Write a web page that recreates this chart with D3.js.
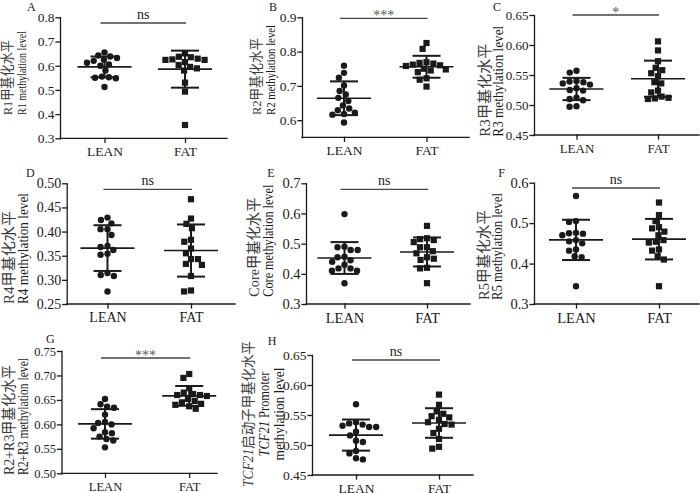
<!DOCTYPE html>
<html>
<head>
  <meta charset="UTF-8">
  <title>TCF21 methylation - LEAN vs FAT</title>
  <script src="https://cdn.jsdelivr.net/npm/d3@7"></script>
  <style>
    body { margin: 0; background: #fff; }
  </style>
</head>
<body>
  <svg id="chart" width="700" height="493"></svg>
  <script>
  //-----------------------------------------
  // data (methylation level per animal)
  const groups = ["LEAN", "FAT"]

  const leanA = [0.655, 0.642, 0.638, 0.632, 0.625, 0.620, 0.612, 0.605, 0.600, 0.580, 0.555, 0.552, 0.550, 0.548, 0.512]
  const fatA  = [0.651, 0.637, 0.635, 0.629, 0.626, 0.624, 0.624, 0.615, 0.603, 0.595, 0.589, 0.580, 0.530, 0.493, 0.355]
  const leanB = [0.759, 0.738, 0.724, 0.701, 0.685, 0.675, 0.665, 0.656, 0.643, 0.634, 0.629, 0.622, 0.618, 0.616, 0.593]
  const fatB  = [0.825, 0.808, 0.769, 0.767, 0.765, 0.762, 0.760, 0.758, 0.750, 0.748, 0.745, 0.740, 0.722, 0.718, 0.698]
  const leanC = [0.557, 0.554, 0.540, 0.539, 0.538, 0.536, 0.534, 0.528, 0.525, 0.524, 0.512, 0.510, 0.508, 0.498, 0.497]
  const fatC  = [0.606, 0.591, 0.573, 0.562, 0.558, 0.553, 0.548, 0.538, 0.536, 0.524, 0.521, 0.514, 0.512, 0.511, 0.510]
  const leanD = [0.429, 0.424, 0.417, 0.405, 0.405, 0.393, 0.370, 0.368, 0.362, 0.354, 0.352, 0.314, 0.310, 0.308, 0.276]
  const fatD  = [0.467, 0.427, 0.416, 0.407, 0.383, 0.379, 0.365, 0.355, 0.343, 0.343, 0.333, 0.331, 0.308, 0.278, 0.276]
  const leanE = [0.598, 0.490, 0.488, 0.479, 0.479, 0.455, 0.457, 0.445, 0.440, 0.430, 0.410, 0.418, 0.418, 0.410, 0.369]
  const fatE  = [0.559, 0.518, 0.515, 0.512, 0.505, 0.488, 0.488, 0.475, 0.468, 0.455, 0.450, 0.446, 0.420, 0.418, 0.369]
  const leanF = [0.567, 0.505, 0.503, 0.476, 0.475, 0.474, 0.470, 0.458, 0.455, 0.450, 0.435, 0.432, 0.418, 0.416, 0.344]
  const fatF  = [0.551, 0.520, 0.505, 0.490, 0.487, 0.479, 0.470, 0.458, 0.454, 0.452, 0.435, 0.432, 0.418, 0.410, 0.344]
  const leanG = [0.652, 0.641, 0.636, 0.634, 0.620, 0.605, 0.603, 0.600, 0.592, 0.584, 0.582, 0.575, 0.570, 0.567, 0.553]
  const fatG  = [0.703, 0.695, 0.674, 0.665, 0.662, 0.660, 0.660, 0.658, 0.652, 0.648, 0.645, 0.642, 0.640, 0.637, 0.632]
  const leanH = [0.568, 0.538, 0.536, 0.534, 0.532, 0.530, 0.530, 0.522, 0.516, 0.507, 0.505, 0.490, 0.486, 0.478, 0.476]
  const fatH  = [0.584, 0.567, 0.556, 0.552, 0.548, 0.546, 0.542, 0.538, 0.535, 0.534, 0.527, 0.520, 0.510, 0.497, 0.494]

  // y axis tick labels
  const ticksA = [0.3, 0.4, 0.5, 0.6, 0.7, 0.8]
  const ticksB = [0.6, 0.7, 0.8, 0.9]
  const ticksC = [0.45, 0.50, 0.55, 0.60, 0.65]
  const ticksD = [0.25, 0.30, 0.35, 0.40, 0.45, 0.50]
  const ticksE = [0.3, 0.4, 0.5, 0.6, 0.7]
  const ticksF = [0.3, 0.4, 0.5, 0.6]
  const ticksG = [0.50, 0.55, 0.60, 0.65, 0.70, 0.75]
  const ticksH = [0.45, 0.50, 0.55, 0.60, 0.65]

  const significance = ["ns", "***", "*", "ns", "ns", "ns", "***", "ns"]

  const panels = [
    { id: "A", lean: leanA, fat: fatA, domain: [0.3, 0.8], ticks: ticksA, fmt: ".1f", label: ["R1甲基化水平", "R1 methylation level"] },
    { id: "B", lean: leanB, fat: fatB, domain: [0.55, 0.9], ticks: ticksB, fmt: ".1f", label: ["R2甲基化水平", "R2 methylation level"] },
    { id: "C", lean: leanC, fat: fatC, domain: [0.45, 0.65], ticks: ticksC, fmt: ".2f", label: ["R3甲基化水平", "R3 methylation level"] },
    { id: "D", lean: leanD, fat: fatD, domain: [0.25, 0.50], ticks: ticksD, fmt: ".2f", label: ["R4甲基化水平", "R4 methylation level"] },
    { id: "E", lean: leanE, fat: fatE, domain: [0.3, 0.7], ticks: ticksE, fmt: ".1f", label: ["Core甲基化水平", "Core methylation level"] },
    { id: "F", lean: leanF, fat: fatF, domain: [0.3, 0.6], ticks: ticksF, fmt: ".1f", label: ["R5甲基化水平", "R5 methylation level"] },
    { id: "G", lean: leanG, fat: fatG, domain: [0.50, 0.75], ticks: ticksG, fmt: ".2f", label: ["R2+R3甲基化水平", "R2+R3 methylation level"] },
    { id: "H", lean: leanH, fat: fatH, domain: [0.45, 0.65], ticks: ticksH, fmt: ".2f", label: ["<i>TCF21</i>启动子甲基化水平", "<i>TCF21</i> Promoter", "methylation level"] }
  ]

  // where each panel sits on the page; labX/labS/labL = title baseline, font size, drawn length
  const layout = {
    A: { x0: 60,   x1: 227, cx: [104.5, 185], yb: 138.3, yt: 17.3,  sigY: 23,    letter: [27, 10.5],     fs: 13.5, labX: [12, 25.5],      labS: [13.5, 13],     labL: [75, 84],      labY: 115 },
    B: { x0: 302,  x1: 469, cx: [344, 426.5], yb: 137.3, yt: 17.3,  sigY: 18.3,  letter: [269, 10.5],    fs: 13.5, labX: [260.5, 275],   labS: [13.5, 13],     labL: [77, 90],      labY: 115 },
    C: { x0: 534,  x1: 699, cx: [576.5, 658], yb: 135,   yt: 15,    sigY: 15,    letter: [493, 10.7],    fs: 13,   labX: [490, 502.5],   labS: [15, 14.5],     labL: [93, 111],     labY: 136.7 },
    D: { x0: 66.7, x1: 235, cx: [107.5, 191], yb: 304,   yt: 183.3, sigY: 189.3, letter: [26, 176.7],    fs: 14,   labX: [13.5, 27.5],   labS: [15, 14.5],     labL: [93, 111],     labY: 304 },
    E: { x0: 306,  x1: 470, cx: [344.5, 427], yb: 304,   yt: 183.3, sigY: 189.3, letter: [267.3, 176.7], fs: 14.5, labX: [258.5, 273],   labS: [15, 14.5],     labL: [99, 112],     labY: 296.7 },
    F: { x0: 534,  x1: 699, cx: [576, 659],   yb: 304,   yt: 182.7, sigY: 188,   letter: [498.3, 177.3], fs: 14.5, labX: [489, 502],     labS: [15, 14.5],     labL: [90, 107],     labY: 300 },
    G: { x0: 61.5, x1: 217, cx: [105, 189.2], yb: 473.3, yt: 351,   sigY: 358,   letter: [46, 342.5],    fs: 12.5, labX: [14, 28],       labS: [15, 14],       labL: [110, 117],    labY: 475 },
    H: { x0: 312,  x1: 473, cx: [356, 439],   yb: 475,   yt: 355,   sigY: 360,   letter: [267.7, 345],   fs: 13.5, labX: [253, 268.5, 283.5], labS: [14, 14, 14], labL: [146, 85, 93], labY: 414, mid: true }
  }

  const serif = '"Liberation Serif", "Times New Roman", "Noto Sans CJK SC", serif'
  const ink = "#1a1a1a"
  const svg = d3.select("#chart")

  // simple beeswarm: each point takes the free x offset closest to the column centre
  function swarm(values, y, d) {
    const pts = values.map(v => ({ v: v, y: y(v), x: 0 }))
    const done = []
    pts.slice().sort((a, b) => b.v - a.v).forEach(p => {
      const near = done.filter(q => Math.abs(q.y - p.y) < d)
      const cand = [0]
      near.forEach(q => {
        const w = Math.sqrt(d * d - (q.y - p.y) * (q.y - p.y))
        cand.push(q.x - w, q.x + w)
      })
      cand.sort((a, b) => Math.abs(a) - Math.abs(b))
      p.x = cand.find(c => near.every(q => (q.x - c) * (q.x - c) + (q.y - p.y) * (q.y - p.y) >= d * d - 1e-6))
      done.push(p)
    })
    return pts
  }

  // text with <i>..</i> parts in italic
  function richText(sel, str) {
    str.split(/(<i>.*?<\/i>)/).filter(s => s).forEach(s => {
      const it = s.startsWith("<i>")
      sel.append("tspan").text(it ? s.slice(3, -4) : s).attr("font-style", it ? "italic" : null)
    })
  }

  panels.forEach((p, pi) => {
    const L = layout[p.id]
    const g = svg.append("g")
    const y = d3.scaleLinear().domain(p.domain).range([L.yb, L.yt])
    const x = d3.scalePoint().domain(groups).range(L.cx)

    // axes
    const ya = g.append("g")
      .attr("transform", "translate(" + L.x0 + ",0)")
      .call(d3.axisLeft(y).tickValues(p.ticks).tickFormat(d3.format(p.fmt)).tickSize(4).tickSizeOuter(0).tickPadding(1.5))
    const xa = g.append("g")
      .attr("transform", "translate(0," + L.yb + ")")
      .call(d3.axisBottom(x).tickSize(4).tickSizeOuter(0).tickPadding(4.5))
    xa.select(".domain").attr("d", "M" + L.x0 + ",0H" + L.x1)
    ;[ya, xa].forEach(a => {
      a.attr("font-family", serif).attr("font-size", L.fs).style("color", ink)
      a.selectAll("path, line").attr("stroke-width", 1.3).attr("stroke-linecap", "square")
    })

    // points, mean and SD
    groups.forEach((grp, gi) => {
      const vals = gi ? p.fat : p.lean
      const cx = x(grp)
      const pts = swarm(vals, y, 7)
      if (gi === 0) {
        g.selectAll(null).data(pts).join("circle")
          .attr("cx", d => cx + d.x).attr("cy", d => d.y).attr("r", 3.2).attr("fill", ink)
      } else {
        g.selectAll(null).data(pts).join("rect")
          .attr("x", d => cx + d.x - 3.1).attr("y", d => d.y - 3.1)
          .attr("width", 6.2).attr("height", 6.2).attr("fill", ink)
      }
      const m = d3.mean(vals), s = d3.deviation(vals)
      const stat = g.append("g").attr("stroke", ink)
      stat.append("line").attr("x1", cx - 27).attr("x2", cx + 27).attr("y1", y(m)).attr("y2", y(m)).attr("stroke-width", 1.6)
      stat.append("line").attr("x1", cx).attr("x2", cx).attr("y1", y(m - s)).attr("y2", y(m + s)).attr("stroke-width", 2)
      ;[m - s, m + s].forEach(v => {
        stat.append("line").attr("x1", cx - 14).attr("x2", cx + 14).attr("y1", y(v)).attr("y2", y(v)).attr("stroke-width", 2)
      })
    })

    // significance bar
    const sx1 = x("LEAN") - 4, sx2 = x("FAT") + 1
    const sig = significance[pi]
    g.append("line")
      .attr("x1", sx1).attr("x2", sx2).attr("y1", L.sigY).attr("y2", L.sigY)
      .attr("stroke", "#444").attr("stroke-width", 1.3)
    g.append("text")
      .attr("x", (sx1 + sx2) / 2)
      .attr("y", sig === "ns" ? L.sigY - 4 : L.sigY + 1.5)
      .attr("text-anchor", "middle")
      .attr("font-family", serif).attr("font-size", 14)
      .attr("fill", sig === "ns" ? ink : "#555")
      .text(sig)

    // panel letter
    g.append("text")
      .attr("x", L.letter[0]).attr("y", L.letter[1])
      .attr("font-family", serif).attr("font-size", 12).attr("fill", ink)
      .text(p.id)

    // y axis title, one text per line, squeezed to the length seen in the figure
    p.label.forEach((line, li) => {
      const t = g.append("text")
        .attr("transform", "translate(" + L.labX[li] + "," + L.labY + ") rotate(-90)")
        .attr("text-anchor", L.mid ? "middle" : "start")
        .attr("font-family", serif).attr("font-size", L.labS[li])
        .attr("textLength", L.labL[li]).attr("lengthAdjust", "spacingAndGlyphs")
        .attr("fill", li === 0 ? "#3a3a3a" : ink)
      richText(t, line)
    })
  })
  </script>
</body>
</html>
